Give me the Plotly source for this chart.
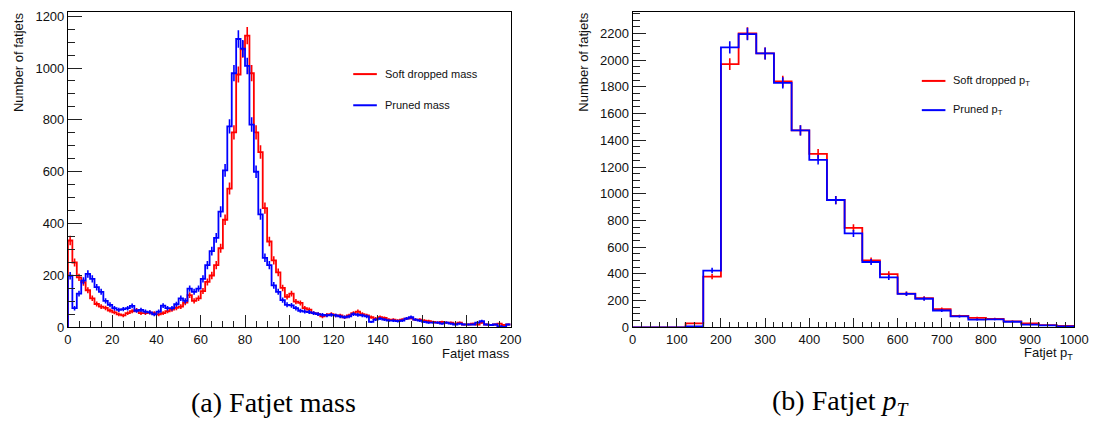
import numpy as np
import plotly.graph_objects as go

# ---------------- data ----------------
mass_edges = list(range(0, 202, 2))  # 100 bins of 2 GeV
soft_dropped_mass = [
    335, 250, 193, 174, 143, 112, 90, 80, 75, 65,
    58, 50, 46, 55, 62, 66, 55, 55, 57, 55,
    50, 55, 62, 68, 75, 80, 95, 124, 102, 112,
    140, 175, 200, 240, 305, 415, 535, 752, 975, 1072,
    1125, 980, 752, 676, 460, 331, 258, 212, 152, 118,
    130, 99, 94, 74, 68, 55, 51, 42, 48, 51,
    46, 46, 39, 46, 55, 61, 51, 46, 39, 34,
    39, 36, 30, 30, 26, 30, 34, 36, 30, 30,
    26, 24, 21, 18, 21, 18, 18, 14, 18, 11,
    11, 14, 11, 18, 11, 9, 11, 14, 9, 11,
]
pruned_mass = [
    199, 74, 130, 180, 206, 187, 155, 137, 102, 87,
    74, 67, 70, 74, 83, 64, 67, 61, 58, 50,
    61, 84, 74, 74, 89, 112, 102, 149, 137, 149,
    187, 240, 294, 345, 446, 605, 775, 980, 1112, 1075,
    1008, 782, 600, 436, 268, 240, 162, 137, 105, 87,
    85, 74, 64, 61, 59, 55, 51, 48, 46, 48,
    46, 42, 39, 42, 51, 48, 46, 42, 21, 30,
    34, 30, 26, 26, 24, 26, 34, 39, 30, 26,
    21, 18, 18, 18, 14, 18, 14, 11, 14, 11,
    11, 11, 18, 24, 11, 9, 11, 5, 2, 11,
]

pt_edges = list(range(0, 1040, 40))  # 25 bins of 40 GeV
soft_dropped_pt = [0, 0, 0, 30, 380, 1970, 2200, 2050, 1840, 1475, 1298, 953, 744,
                   501, 399, 253, 218, 136, 85, 71, 63, 45, 29, 17, 10]
pruned_pt = [0, 0, 0, 8, 425, 2095, 2195, 2050, 1830, 1475, 1254, 953, 703,
             489, 374, 250, 214, 126, 82, 58, 60, 42, 20, 15, 8]

mass_labels = ["Soft dropped mass", "Pruned mass"]
pt_labels = ["Soft dropped p<sub>T</sub>", "Pruned p<sub>T</sub>"]
captions = ["(a) Fatjet mass", "(b) Fatjet <i>p</i><sub><i>T</i></sub>"]

RED = "#ff0000"
BLUE = "#0000ff"
W, H = 1106, 423

fig = go.Figure()


def add_hist(edges, vals, color, xa, ya):
    edges = np.asarray(edges, dtype=float)
    vals = np.asarray(vals, dtype=float)
    xs = np.concatenate([[edges[0]], edges])
    ys = np.concatenate([[0.0], vals, [vals[-1]]])
    fig.add_trace(go.Scatter(x=xs, y=ys, mode="lines", line=dict(color=color, width=1.8, shape="hv"),
                             xaxis=xa, yaxis=ya, showlegend=False, hoverinfo="skip"))
    # Poisson error bars (sqrt N) as vertical segments at bin centres
    centers = 0.5 * (edges[:-1] + edges[1:])
    err = np.sqrt(vals)
    ex, ey = [], []
    for c, v, e in zip(centers, vals, err):
        if v <= 0:
            continue
        ex += [c, c, None]
        ey += [v - e, v + e, None]
    fig.add_trace(go.Scatter(x=ex, y=ey, mode="lines", line=dict(color=color, width=1.6),
                             xaxis=xa, yaxis=ya, showlegend=False, hoverinfo="skip", connectgaps=False))


add_hist(mass_edges, soft_dropped_mass, RED, "x", "y")
add_hist(mass_edges, pruned_mass, BLUE, "x", "y")
add_hist(pt_edges, soft_dropped_pt, RED, "x2", "y2")
add_hist(pt_edges, pruned_pt, BLUE, "x2", "y2")

tickfont = dict(family="Liberation Sans, Arial, sans-serif", size=13, color="#111")
axcommon = dict(showline=True, linecolor="black", linewidth=1, mirror=True, ticks="inside",
                tickcolor="#222", tickwidth=1, showgrid=False, zeroline=False, tickfont=tickfont)


def px_x(p):
    return p / W


def px_y(p):
    return 1 - p / H


fig.update_layout(
    width=W, height=H, margin=dict(l=0, r=0, t=0, b=0),
    paper_bgcolor="white", plot_bgcolor="white",
    xaxis=dict(domain=[px_x(65), px_x(515)], range=[0, 200], dtick=20, tick0=0, ticklen=12,
               minor=dict(dtick=5, ticklen=6, ticks="inside", tickcolor="#222"), anchor="y", **axcommon),
    yaxis=dict(domain=[px_y(333), px_y(9)], range=[0, 1217], dtick=200, tick0=0, ticklen=14,
               minor=dict(dtick=50, ticklen=7, ticks="inside", tickcolor="#222"), anchor="x", **axcommon),
    xaxis2=dict(domain=[px_x(639), px_x(1088)], range=[0, 1000], dtick=100, tick0=0, ticklen=9,
                minor=dict(dtick=20, ticklen=5, ticks="inside", tickcolor="#222"), anchor="y2", **axcommon),
    yaxis2=dict(domain=[px_y(333), px_y(9)], range=[0, 2362], dtick=200, tick0=0, ticklen=13,
                minor=dict(dtick=50, ticklen=7, ticks="inside", tickcolor="#222"), anchor="x2", **axcommon),
)

annots = []
titlefont = dict(family="Liberation Sans, Arial, sans-serif", size=13, color="#111")
# y-axis titles
for xc in (15, 589):
    annots.append(dict(xref="paper", yref="paper", x=px_x(xc), y=px_y(8), xanchor="center", yanchor="top",
                       text="Number of fatjets", textangle=-90, showarrow=False, font=titlefont))
# x-axis titles
annots.append(dict(xref="paper", yref="paper", x=px_x(516), y=px_y(360), xanchor="right", yanchor="middle",
                   text="Fatjet mass", showarrow=False, font=titlefont))
annots.append(dict(xref="paper", yref="paper", x=px_x(1089), y=px_y(360), xanchor="right", yanchor="middle",
                   text="Fatjet p<sub>T</sub>", showarrow=False, font=titlefont))

# legends (manual, ROOT-style)
legfont = dict(family="Liberation Sans, Arial, sans-serif", size=11, color="#111")
shapes = []
for (x0, labels, ys) in ((355, mass_labels, (73, 105)), (933, pt_labels, (80, 110))):
    for lab, yy, col in zip(labels, ys, (RED, BLUE)):
        shapes.append(dict(type="line", xref="paper", yref="paper", x0=px_x(x0), x1=px_x(x0 + 24),
                           y0=px_y(yy), y1=px_y(yy), line=dict(color=col, width=2)))
        annots.append(dict(xref="paper", yref="paper", x=px_x(x0 + 30), y=px_y(yy), xanchor="left",
                           yanchor="middle", text=lab, showarrow=False, font=legfont))

# captions
capfont = dict(family="Liberation Serif, Times New Roman, serif", size=28, color="black")
for xc, cap in zip((274, 850), captions):
    annots.append(dict(xref="paper", yref="paper", x=px_x(xc), y=px_y(410), xanchor="center",
                       yanchor="middle", text=cap, showarrow=False, font=capfont))

fig.update_layout(annotations=annots, shapes=shapes)
fig.write_html("out.html")
